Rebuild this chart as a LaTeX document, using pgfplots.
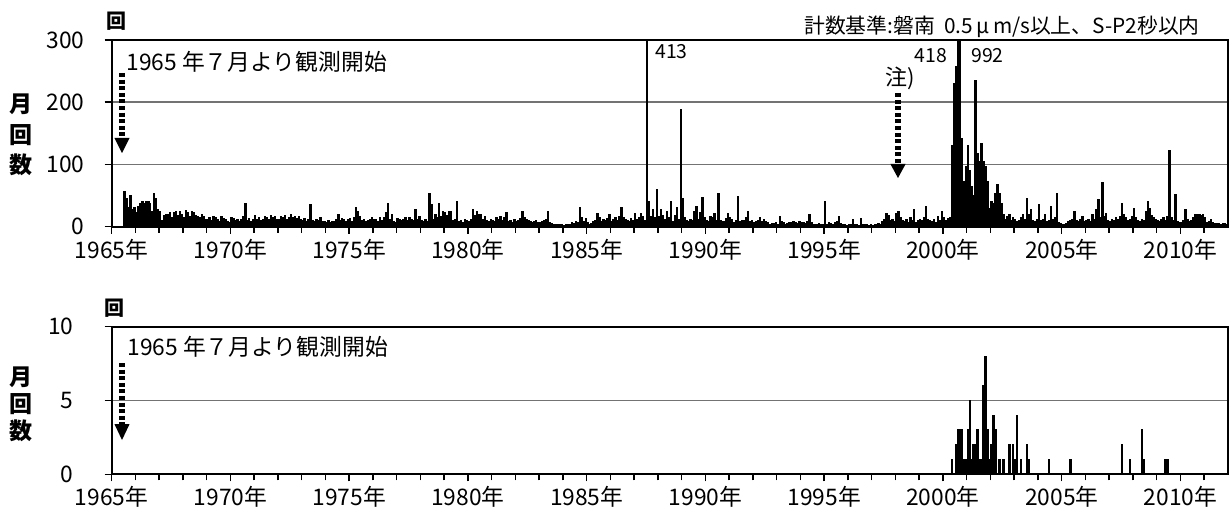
\documentclass[border=0pt]{standalone}
\usepackage{fontspec}
\setmainfont{Noto Sans CJK JP}
\usepackage{pgfplots}
\usepackage{pgfplotstable}
\pgfplotsset{compat=1.18}

\pgfplotstableread{
year m1 m2 m3 m4 m5 m6 m7 m8 m9 m10 m11 m12
1965 0 0 0 0 0 0 57 45 30 50 28 30
1966 22 33 37 40 38 40 40 37 25 53 45 28
1967 24 10 18 20 19 22 14 22 24 18 24 20
1968 15 26 22 17 24 22 18 16 14 20 16 12
1969 11 14 10 16 14 12 9 16 13 12 8 6
1970 15 13 10 12 8 12 16 37 10 13 8 12
1971 18 12 14 10 12 16 15 12 18 14 16 12
1972 12 16 14 18 12 15 19 14 17 13 16 11
1973 10 13 8 12 35 10 8 12 10 14 8 8
1974 6 10 7 8 9 12 19 10 13 12 9 11
1975 13 8 15 30 24 16 10 12 8 10 12 14
1976 11 12 8 14 10 15 22 37 12 19 8 6
1977 13 12 10 12 15 10 14 12 10 27 12 16
1978 10 8 12 9 53 35 12 20 14 37 16 24
1979 22 18 24 24 10 12 40 8 10 6 12 10
1980 8 12 27 18 24 19 19 12 16 10 8 12
1981 10 8 14 12 16 10 14 22 8 10 6 12
1982 8 10 13 24 14 12 10 8 6 8 10 7
1983 6 8 10 12 24 6 5 4 3 3 4 3
1984 2 3 3 4 6 5 8 6 30 14 8 13
1985 6 4 5 8 10 21 14 8 12 10 13 19
1986 8 12 14 10 16 30 14 12 10 8 13 10
1987 21 12 14 21 16 10 413 40 16 27 14 60
1988 16 27 18 12 24 14 40 8 18 30 12 188
1989 45 14 10 8 12 10 24 32 12 22 47 14
1990 10 8 16 14 21 10 53 10 9 8 13 21
1991 14 12 6 10 48 8 10 10 14 24 8 10
1992 6 8 10 14 8 12 9 6 4 5 5 6
1993 4 16 8 6 3 5 7 6 8 7 5 8
1994 6 7 5 9 19 6 3 3 4 5 3 3
1995 40 3 6 5 4 7 8 16 5 3 3 2
1996 3 4 12 3 3 2 13 3 3 4 2 3
1997 2 3 3 5 4 8 12 21 18 10 12 8
1998 21 24 14 10 8 12 6 14 10 27 6 10
1999 12 10 14 32 12 10 8 12 6 16 10 24
2000 14 10 13 14 131 230 258 418 992 142 72 96
2001 131 91 64 50 235 118 104 134 104 96 72 29
2002 40 37 53 67 53 37 20 12 16 19 10 14
2003 12 8 10 14 20 12 45 20 27 10 8 12
2004 35 10 12 19 8 10 32 12 14 53 6 5
2005 4 3 5 8 10 12 24 10 8 12 16 8
2006 10 12 8 19 12 27 43 14 71 16 21 10
2007 8 12 10 14 12 16 37 20 14 10 12 16
2008 29 14 10 8 12 10 24 40 29 18 14 12
2009 10 8 12 14 10 16 123 14 10 52 8 6
2010 6 10 27 12 8 10 14 19 19 19 18 19
2011 14 6 8 12 6 5 5 5 4 5 5 4
}\datatop

\pgfplotstableread{
year month v
2000 5 1
2000 7 2
2000 8 3
2000 9 3
2000 10 3
2000 11 1
2000 12 1
2001 1 3
2001 2 5
2001 3 1
2001 4 2
2001 5 2
2001 6 3
2001 7 1
2001 8 1
2001 9 6
2001 10 8
2001 11 3
2001 12 1
2002 1 2
2002 2 4
2002 3 3
2002 5 1
2002 7 1
2002 10 2
2002 12 2
2003 1 1
2003 2 4
2003 4 1
2003 7 2
2003 8 1
2004 6 1
2005 5 1
2007 7 2
2007 11 1
2008 5 3
2008 6 1
2009 5 1
2009 6 1
}\databot

\pgfplotsset{
  panel/.style={
    anchor=south west, scale only axis, width=558.15pt,
    xmin=1965, xmax=2012, ymin=0,
    xtick={1965,1970,...,2010},
    xticklabels={1965年,1970年,1975年,1980年,1985年,1990年,1995年,2000年,2005年,2010年},
    minor xtick={1966,...,2011},
    xtick pos=lower, ytick pos=left,
    tick align=outside, major tick length=3.5pt, minor tick length=3pt,
    tick style={black, line width=0.75pt},
    axis line style={line width=1pt},
    ymajorgrids, grid style={line width=0.75pt, color=black!55},
    ticklabel style={font=\fontsize{11.4}{13}\selectfont},
    xticklabel style={yshift=1pt},
  },
  bars/.style={ybar, bar width=0.055, bar shift=0pt, fill=black, draw=black, line width=0.55pt},
}

\begin{document}
\begin{tikzpicture}[x=1pt,y=1pt]
\path[use as bounding box] (0,0) rectangle (616,257.5);

\begin{axis}[panel, at={(55.85pt,144.15pt)}, height=93.35pt, ymax=300,
  ytick={0,100,200,300}, yticklabels={0,100,200,300},
  yticklabel style={xshift=-6.5pt}]
\pgfplotsinvokeforeach{1,...,12}{
  \addplot[bars] table[x expr={\thisrow{year}+(#1-0.5)/12}, y=m#1]{\datatop};
}
\end{axis}

\begin{axis}[panel, at={(55.85pt,20.35pt)}, height=73.8pt, ymax=10,
  ytick={0,5,10}, yticklabels={0,5,10},
  yticklabel style={xshift=-12pt}]
\addplot[bars] table[x expr={\thisrow{year}+(\thisrow{month}-0.5)/12}, y=v]{\databot};
\end{axis}

% annotations
\tikzset{dotarrow/.style={line width=2.6pt, dash pattern=on 2pt off 1.3pt}}
\draw[dotarrow] (61,221) -- (61,188);
\fill (57.2,188.5) -- (64.8,188.5) -- (61,181) -- cycle;
\draw[dotarrow] (61,76) -- (61,45.5);
\fill (57.2,45.5) -- (64.8,45.5) -- (61,37.5) -- cycle;
\draw[dotarrow] (449,211) -- (449,175.5);
\fill (445.2,175.5) -- (452.8,175.5) -- (449,168.5) -- cycle;

\node[anchor=west, inner sep=0pt, font=\fontsize{11.4}{13}\selectfont] at (63,226.5) {1965 年７月より観測開始};
\node[anchor=west, inner sep=0pt, font=\fontsize{11.4}{13}\selectfont] at (63.5,84) {1965 年７月より観測開始};

\node[inner sep=0pt, font=\fontsize{10}{12}\selectfont\bfseries] at (58,247) {回};
\node[inner sep=0pt, font=\fontsize{10}{12}\selectfont\bfseries] at (57,103.5) {回};

\foreach \yy/\ch in {205.5/月,190/回,175/数}{
  \node[inner sep=0pt, font=\fontsize{11.5}{13}\selectfont\bfseries] at (10.5,\yy) {\ch};
}
\foreach \yy/\ch in {69/月,55.5/回,42/数}{
  \node[inner sep=0pt, font=\fontsize{11.5}{13}\selectfont\bfseries] at (10.5,\yy) {\ch};
}

\node[anchor=west, inner sep=0pt, font=\fontsize{9.7}{12}\selectfont] at (327.5,231.5) {413};
\node[inner sep=0pt, font=\fontsize{9.7}{12}\selectfont] at (465.5,229.5) {418};
\node[inner sep=0pt, font=\fontsize{9.7}{12}\selectfont] at (493.75,229.5) {992};
\node[inner sep=0pt, font=\fontsize{11}{13}\selectfont] at (450,218.5) {注)};

\node[anchor=east, inner sep=0pt, font=\fontsize{10.4}{12}\selectfont] at (600,244) {計数基準:磐南\ \ 0.5\,μ\,m/s以上、S-P2秒以内};
\end{tikzpicture}
\end{document}
